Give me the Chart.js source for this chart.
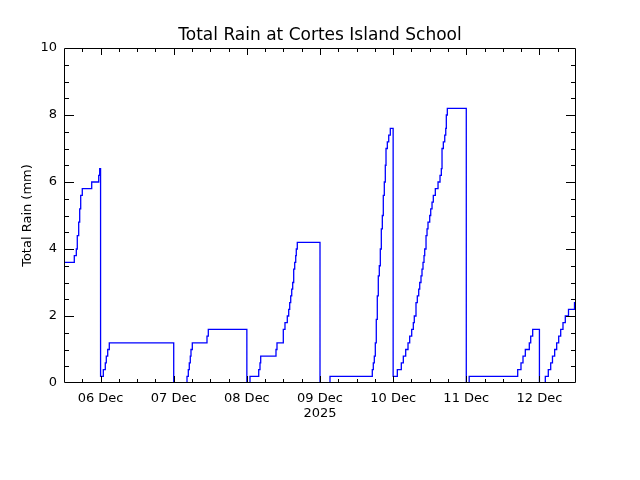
<!DOCTYPE html>
<html>
<head>
<meta charset="utf-8">
<script src="https://cdn.jsdelivr.net/npm/chart.js@4/dist/chart.umd.min.js"></script>
<style>
  html, body { margin: 0; padding: 0; background: #fff; }
  canvas { display: block; }
</style>
</head>
<body>
<canvas id="rain" width="640" height="480"></canvas>
<script>
// hours since 05 Dec 2025 00:00, tipping-bucket total (mm), resets each midnight
const hours = [
  12, 15.38, 16.04, 16.36, 16.82, 17.15, 17.48, 18.0, 21.09, 23.39, 23.71,
  24, 24.9, 25.55, 25.88, 26.34, 26.86,
  48, 52.36, 52.79, 53.11, 53.44, 53.67, 54.1, 58.92, 59.35,
  72, 73.03, 75.89, 76.31, 76.54, 81.56, 81.89, 83.96, 84.51, 85.27, 85.73, 86.06, 86.39, 86.72, 87.04, 87.37, 87.7, 88.03, 88.22, 88.55,
  96, 99.28, 113.16, 113.49, 113.82, 114.15, 114.47, 114.8, 115.13, 115.46, 115.79, 116.12, 116.45, 116.77, 117.1, 117.43, 117.66, 118.09, 118.55, 119.07,
  120, 121.37, 122.68, 123.34, 124.12, 124.88, 125.43, 126.09, 126.62, 126.94, 127.5, 127.93, 128.39, 128.72, 129.14, 129.47, 129.8, 130.13, 130.36, 130.79, 131.12, 131.44, 132.0, 132.33, 132.76, 133.18, 133.84, 134.73, 135.38, 135.81, 136.04, 136.47, 136.93, 137.26, 137.45, 137.78,
  144, 144.95, 160.87, 161.95, 162.61, 163.37, 164.68, 165.14, 165.79,
  168, 169.93, 170.91, 171.7, 172.28, 173.0, 173.66, 174.32, 174.98, 175.73, 176.49, 177.54, 179.51, 180
];
const rain = [
  3.6, 3.8, 4.0, 4.4, 4.8, 5.2, 5.6, 5.8, 6.0, 6.2, 6.4,
  0.2, 0.4, 0.6, 0.8, 1.0, 1.2,
  0, 0.2, 0.4, 0.6, 0.8, 1.0, 1.2, 1.4, 1.6,
  0, 0.2, 0.4, 0.6, 0.8, 1.0, 1.2, 1.6, 1.8, 2.0, 2.2, 2.4, 2.6, 2.8, 3.0, 3.4, 3.6, 3.8, 4.0, 4.2,
  0, 0.2, 0.4, 0.6, 0.8, 1.2, 1.9, 2.6, 3.2, 3.5, 4.0, 4.6, 5.0, 5.6, 6.0, 6.5, 7.0, 7.2, 7.4, 7.6,
  0.2, 0.4, 0.6, 0.8, 1.0, 1.2, 1.4, 1.6, 1.8, 2.0, 2.4, 2.6, 2.8, 3.0, 3.2, 3.4, 3.6, 3.8, 4.0, 4.4, 4.6, 4.8, 5.0, 5.2, 5.4, 5.6, 5.8, 6.0, 6.2, 6.4, 7.0, 7.2, 7.4, 7.6, 8.0, 8.2,
  0, 0.2, 0.4, 0.6, 0.8, 1.0, 1.2, 1.4, 1.6,
  0, 0.2, 0.4, 0.6, 0.8, 1.0, 1.2, 1.4, 1.6, 1.8, 2.0, 2.2, 2.4, 2.4
];
const dayHours = [24, 48, 72, 96, 120, 144, 168];
const dayLabels = ['06 Dec', '07 Dec', '08 Dec', '09 Dec', '10 Dec', '11 Dec', '12 Dec'];
const yearLabel = '2025';

const FONT = 'DejaVu Sans';

// IDL-style box with inward ticks on all four sides
const boxTicks = {
  id: 'boxTicks',
  afterDraw(chart) {
    const { ctx, chartArea: a, scales: { x, y } } = chart;
    ctx.save();
    ctx.strokeStyle = '#000';
    ctx.lineWidth = 1;
    ctx.beginPath();
    ctx.rect(a.left + 0.5, a.top + 0.5, a.right - a.left - 1, a.bottom - a.top - 1);
    for (let h = 18; h < 180; h += 6) {
      const px = Math.round(x.getPixelForValue(h)) + 0.5;
      const len = h % 24 === 0 ? 7 : 4;
      ctx.moveTo(px, a.bottom); ctx.lineTo(px, a.bottom - len);
      ctx.moveTo(px, a.top); ctx.lineTo(px, a.top + len);
    }
    for (let v = 0.5; v < 10; v += 0.5) {
      const py = Math.round(y.getPixelForValue(v)) + 0.5;
      const len = v % 2 === 0 ? 10 : 5;
      ctx.moveTo(a.left, py); ctx.lineTo(a.left + len, py);
      ctx.moveTo(a.right, py); ctx.lineTo(a.right - len, py);
    }
    ctx.stroke();
    ctx.restore();
  }
};

new Chart(document.getElementById('rain'), {
  type: 'line',
  data: {
    datasets: [{
      data: hours.map((h, i) => ({ x: h, y: rain[i] })),
      stepped: true,
      borderColor: '#0000ff',
      borderWidth: 1.3,
      pointRadius: 0,
      fill: false
    }]
  },
  options: {
    responsive: false,
    animation: false,
    devicePixelRatio: 1,
    plugins: {
      legend: { display: false },
      tooltip: { enabled: false },
      title: {
        display: true,
        text: 'Total Rain at Cortes Island School',
        color: '#000',
        font: { family: FONT, size: 17, weight: 'normal' },
        padding: { top: 25, bottom: 2.6 }
      }
    },
    scales: {
      x: {
        type: 'linear',
        min: 12,
        max: 180,
        grid: { display: false, drawTicks: false },
        border: { display: false },
        afterBuildTicks: s => { s.ticks = dayHours.map(v => ({ value: v })); },
        afterFit: s => { s.height = 97; },
        ticks: {
          autoSkip: false,
          maxRotation: 0,
          padding: 8,
          color: '#000',
          font: { family: FONT, size: 13 },
          callback: (v, i) => dayLabels[i]
        },
        title: {
          display: true,
          text: yearLabel,
          color: '#000',
          font: { family: FONT, size: 13 },
          padding: { top: 0, bottom: 59 }
        }
      },
      y: {
        min: 0,
        max: 10,
        grid: { display: false, drawTicks: false },
        border: { display: false },
        afterFit: s => { s.width = 64; },
        ticks: {
          stepSize: 2,
          padding: 7,
          color: '#000',
          font: { family: FONT, size: 13 }
        },
        title: {
          display: true,
          text: 'Total Rain (mm)',
          color: '#000',
          font: { family: FONT, size: 13 },
          padding: { top: 20, bottom: 0 }
        }
      },
      yRight: {
        position: 'right',
        min: 0,
        max: 10,
        grid: { display: false, drawTicks: false },
        border: { display: false },
        ticks: { display: false },
        afterFit: s => { s.width = 64; }
      }
    }
  },
  plugins: [boxTicks]
});
</script>
</body>
</html>
